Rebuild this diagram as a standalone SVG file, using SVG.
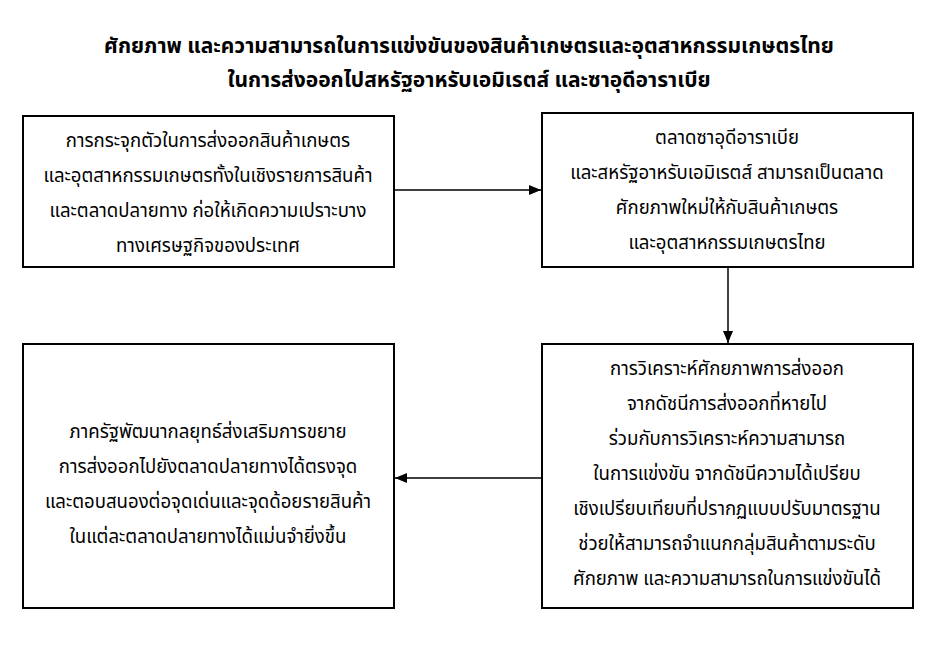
<svg xmlns="http://www.w3.org/2000/svg" width="937" height="648" viewBox="0 0 937 648">
<defs>
<style>
.box{fill:#fff;stroke:#000;stroke-width:2}
.t{font-family:"Noto Sans Thai","Noto Sans","DejaVu Sans",sans-serif;font-size:18.6px;fill:#000;text-anchor:middle}
.title{font-family:"Noto Sans Thai","Noto Sans","DejaVu Sans",sans-serif;font-size:21px;font-weight:bold;fill:#000;text-anchor:middle}
.c{stroke:#000;stroke-width:1.5;fill:none}
</style>
<marker id="ah" viewBox="0 0 12 10" refX="12" refY="5" markerWidth="12" markerHeight="10" markerUnits="userSpaceOnUse" orient="auto"><path d="M0,0 L12,5 L0,10 z" fill="#000"/></marker>
</defs>
<rect width="937" height="648" fill="#fff"/>
<g id="title">
<text class="title" x="469" y="53">ศักยภาพ และความสามารถในการแข่งขันของสินค้าเกษตรและอุตสาหกรรมเกษตรไทย</text>
<text class="title" x="469" y="87">ในการส่งออกไปสหรัฐอาหรับเอมิเรตส์ และซาอุดีอาราเบีย</text>
</g>
<g id="node1">
<rect class="box" x="23" y="116" width="371" height="151"/>
<text class="t" x="208" y="147">การกระจุกตัวในการส่งออกสินค้าเกษตร</text>
<text class="t" x="208" y="182">และอุตสาหกรรมเกษตรทั้งในเชิงรายการสินค้า</text>
<text class="t" x="208" y="217">และตลาดปลายทาง ก่อให้เกิดความเปราะบาง</text>
<text class="t" x="208" y="252">ทางเศรษฐกิจของประเทศ</text>
</g>
<g id="node2">
<rect class="box" x="542" y="113" width="371" height="154"/>
<text class="t" x="727" y="144">ตลาดซาอุดีอาราเบีย</text>
<text class="t" x="727" y="179">และสหรัฐอาหรับเอมิเรตส์ สามารถเป็นตลาด</text>
<text class="t" x="727" y="214">ศักยภาพใหม่ให้กับสินค้าเกษตร</text>
<text class="t" x="727" y="249">และอุตสาหกรรมเกษตรไทย</text>
</g>
<g id="node3">
<rect class="box" x="542" y="344" width="371" height="264"/>
<text class="t" x="727" y="375">การวิเคราะห์ศักยภาพการส่งออก</text>
<text class="t" x="727" y="410">จากดัชนีการส่งออกที่หายไป</text>
<text class="t" x="727" y="445">ร่วมกับการวิเคราะห์ความสามารถ</text>
<text class="t" x="727" y="480">ในการแข่งขัน จากดัชนีความได้เปรียบ</text>
<text class="t" x="727" y="515">เชิงเปรียบเทียบที่ปรากฏแบบปรับมาตรฐาน</text>
<text class="t" x="727" y="550">ช่วยให้สามารถจำแนกกลุ่มสินค้าตามระดับ</text>
<text class="t" x="727" y="585">ศักยภาพ และความสามารถในการแข่งขันได้</text>
</g>
<g id="node4">
<rect class="box" x="23" y="344" width="371" height="264"/>
<text class="t" x="208" y="438">ภาครัฐพัฒนากลยุทธ์ส่งเสริมการขยาย</text>
<text class="t" x="208" y="473">การส่งออกไปยังตลาดปลายทางได้ตรงจุด</text>
<text class="t" x="208" y="508">และตอบสนองต่อจุดเด่นและจุดด้อยรายสินค้า</text>
<text class="t" x="208" y="543">ในแต่ละตลาดปลายทางได้แม่นจำยิ่งขึ้น</text>
</g>
<g id="connectors">
<line class="c" x1="395" y1="190" x2="541" y2="190" marker-end="url(#ah)"/>
<line class="c" x1="728" y1="268" x2="728" y2="343" marker-end="url(#ah)"/>
<line class="c" x1="541" y1="478" x2="395" y2="478" marker-end="url(#ah)"/>
</g>
</svg>
